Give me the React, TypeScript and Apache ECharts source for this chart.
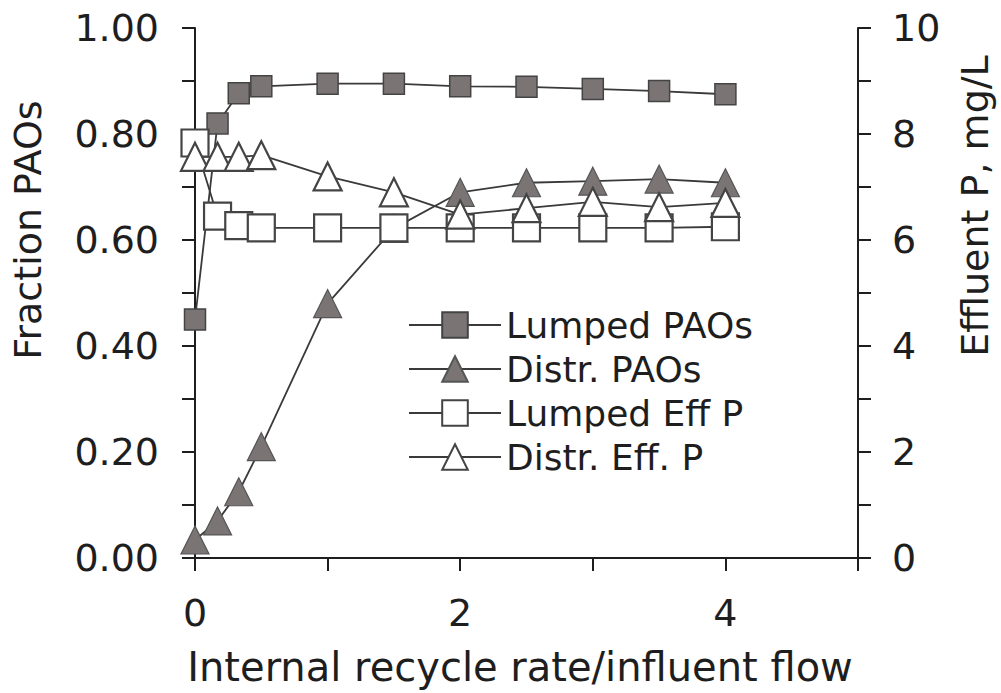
import React, { useEffect, useRef } from "react";
import * as echarts from "echarts";

const xValues = [0, 0.17, 0.33, 0.5, 1, 1.5, 2, 2.5, 3, 3.5, 4];
const lumpedPAOs = [0.45, 0.82, 0.877, 0.89, 0.895, 0.895, 0.89, 0.889, 0.885, 0.881, 0.875];
const distrPAOs = [0.034, 0.07, 0.125, 0.21, 0.48, 0.622, 0.69, 0.708, 0.711, 0.715, 0.708];
const lumpedEffP = [7.83, 6.45, 6.27, 6.23, 6.23, 6.23, 6.23, 6.23, 6.23, 6.23, 6.25];
const distrEffP = [7.57, 7.57, 7.57, 7.6, 7.2, 6.9, 6.48, 6.6, 6.72, 6.62, 6.7];

const seriesNames = ["Lumped PAOs", "Distr. PAOs", "Lumped Eff P", "Distr. Eff. P"];
const leftTitle = "Fraction PAOs";
const rightTitle = "Effluent P, mg/L";
const xTitle = "Internal recycle rate/influent flow";

const FONT = "DejaVu Sans";
const INK = "#1e1e1e";
const LINE = "#3a3a3a";
const FILL = "#7b7474";

const pairs = (ys: number[]) => xValues.map((x, i) => [x, ys[i]]);

export default function App() {
  const ref = useRef<HTMLDivElement>(null);
  useEffect(() => {
    if (!ref.current) return;
    const chart = echarts.init(ref.current, undefined, { renderer: "svg" });
    const axisCommon = {
      axisLine: { show: true, lineStyle: { color: INK, width: 2 } },
      axisTick: { show: true, length: 13, lineStyle: { color: INK, width: 2 } },
      splitLine: { show: false },
    };
    chart.setOption({
      animation: false,
      backgroundColor: "#ffffff",
      textStyle: { fontFamily: FONT },
      grid: { left: 195, right: 143, top: 28, bottom: 135, containLabel: false },
      xAxis: {
        type: "value",
        min: 0,
        max: 5,
        interval: 1,
        ...axisCommon,
        axisLabel: {
          fontFamily: FONT,
          fontSize: 38,
          color: INK,
          margin: 36,
          formatter: (v: number) => (v % 2 === 0 && v < 5 ? String(v) : ""),
        },
      },
      yAxis: [
        {
          type: "value",
          position: "left",
          min: 0,
          max: 1,
          interval: 0.1,
          ...axisCommon,
          axisLabel: {
            fontFamily: FONT,
            fontSize: 38,
            color: INK,
            margin: 36,
            formatter: (v: number) => (Math.round(v * 10) % 2 === 0 ? v.toFixed(2) : ""),
          },
        },
        {
          type: "value",
          position: "right",
          min: 0,
          max: 10,
          interval: 1,
          ...axisCommon,
          axisLabel: {
            fontFamily: FONT,
            fontSize: 38,
            color: INK,
            margin: 34,
            formatter: (v: number) => (Math.round(v) % 2 === 0 ? String(v) : ""),
          },
        },
      ],
      legend: {
        orient: "vertical",
        left: 403,
        top: 302,
        itemWidth: 92,
        itemHeight: 32,
        itemGap: 8,
        textStyle: { fontFamily: FONT, fontSize: 36, color: INK, padding: [0, 0, 0, 0] },
        data: seriesNames,
      },
      series: [
        {
          name: seriesNames[0],
          type: "line",
          yAxisIndex: 0,
          data: pairs(lumpedPAOs),
          symbol: "rect",
          symbolSize: 21,
          lineStyle: { color: LINE, width: 1.8 },
          itemStyle: { color: FILL, borderColor: "#444", borderWidth: 1.5 },
        },
        {
          name: seriesNames[1],
          type: "line",
          yAxisIndex: 0,
          data: pairs(distrPAOs),
          symbol: "triangle",
          symbolSize: 28,
          lineStyle: { color: LINE, width: 1.8 },
          itemStyle: { color: FILL, borderColor: "#555", borderWidth: 1.2 },
        },
        {
          name: seriesNames[2],
          type: "line",
          yAxisIndex: 1,
          data: pairs(lumpedEffP),
          symbol: "rect",
          symbolSize: 27,
          lineStyle: { color: LINE, width: 1.8 },
          itemStyle: { color: "#ffffff", borderColor: "#444", borderWidth: 2.2 },
        },
        {
          name: seriesNames[3],
          type: "line",
          yAxisIndex: 1,
          data: pairs(distrEffP),
          symbol: "triangle",
          symbolSize: 28,
          lineStyle: { color: LINE, width: 1.8 },
          itemStyle: { color: "#ffffff", borderColor: "#444", borderWidth: 2.2 },
        },
      ],
      graphic: [
        {
          type: "text",
          x: 28,
          y: 230,
          rotation: Math.PI / 2,
          style: {
            text: leftTitle,
            fontFamily: FONT,
            fontSize: 38,
            fill: INK,
            align: "center",
            verticalAlign: "middle",
          },
        },
        {
          type: "text",
          x: 975,
          y: 206,
          rotation: Math.PI / 2,
          style: {
            text: rightTitle,
            fontFamily: FONT,
            fontSize: 38,
            fill: INK,
            align: "center",
            verticalAlign: "middle",
          },
        },
        {
          type: "text",
          x: 520,
          y: 667,
          style: {
            text: xTitle,
            fontFamily: FONT,
            fontSize: 40,
            fill: INK,
            align: "center",
            verticalAlign: "middle",
          },
        },
      ],
    });
    return () => chart.dispose();
  }, []);
  return <div ref={ref} style={{ width: 1001, height: 693, position: "absolute", left: 0, top: 0 }} />;
}
